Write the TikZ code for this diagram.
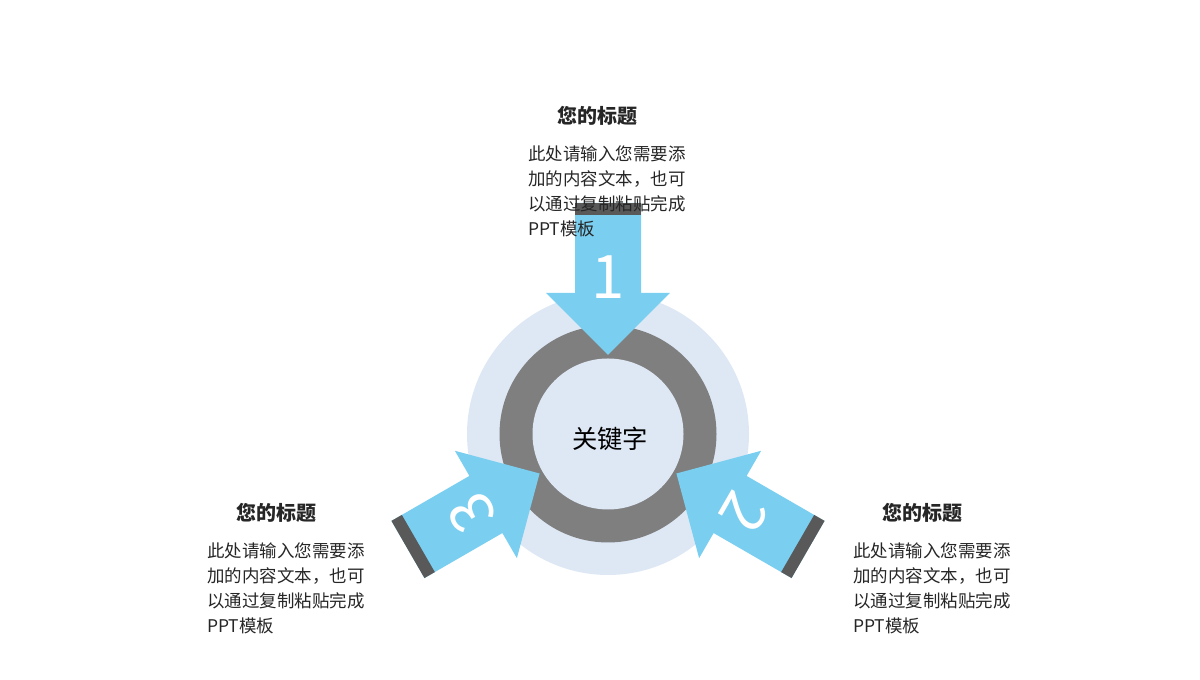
\documentclass[tikz,border=0pt]{standalone}
\usepackage{fontspec}
\setmainfont{Noto Sans CJK SC}
\usetikzlibrary{positioning}
\definecolor{discblue}{RGB}{222,232,245}
\definecolor{ringgray}{RGB}{127,127,127}
\definecolor{arrowblue}{RGB}{122,206,240}
\definecolor{capgray}{RGB}{89,89,89}
\definecolor{textdark}{RGB}{38,38,38}

\begin{document}
\begin{tikzpicture}[x=0.75pt,y=0.75pt,
    title/.style={font=\fontsize{15}{18}\selectfont\bfseries, text=textdark, inner sep=0pt},
    body/.style={font=\fontsize{13.1}{18.75}\selectfont, text=textdark, align=left,
                 anchor=north west, inner sep=0pt},
    keyword/.style={font=\fontsize{19}{22}\selectfont, text=black, inner sep=0pt},
    digit/.style={font=\fontsize{45}{50}\selectfont, text=white, inner sep=0pt}]
    \useasboundingbox (0,0) rectangle (1200,680);
    \coordinate (C) at (608,246);
    % circles
    \fill[discblue] (C) circle (141);
    \fill[ringgray] (C) circle (108.5);
    \fill[discblue] (C) circle (75.5);
    \node[keyword] (key) at (610,241) {关键字};
    % arrows
    \foreach \a/\n in {0/1,-120/2,120/3}{
        \begin{scope}[shift={(C)},rotate=\a,transform shape]
            \fill[arrowblue] (0,79) -- (-62,141) -- (-33,141) -- (-33,231)
                -- (33,231) -- (33,141) -- (62,141) -- cycle;
            \fill[capgray] (-33,219) rectangle (33,231);
            \node[digit] (n\n) at (0,157) {\n};
        \end{scope}
    }
    % text blocks
    \node[title] (t1) at (597,564) {您的标题};
    \node[body] (b1) at (528,534) {此处请输入您需要添\\加的内容文本，也可\\以通过复制粘贴完成\\PPT模板};
    \node[title] (t2) at (922,167) {您的标题};
    \node[body] (b2) at (853,137) {此处请输入您需要添\\加的内容文本，也可\\以通过复制粘贴完成\\PPT模板};
    \node[title] (t3) at (276,167) {您的标题};
    \node[body] (b3) at (207,137) {此处请输入您需要添\\加的内容文本，也可\\以通过复制粘贴完成\\PPT模板};
\end{tikzpicture}
\end{document}
